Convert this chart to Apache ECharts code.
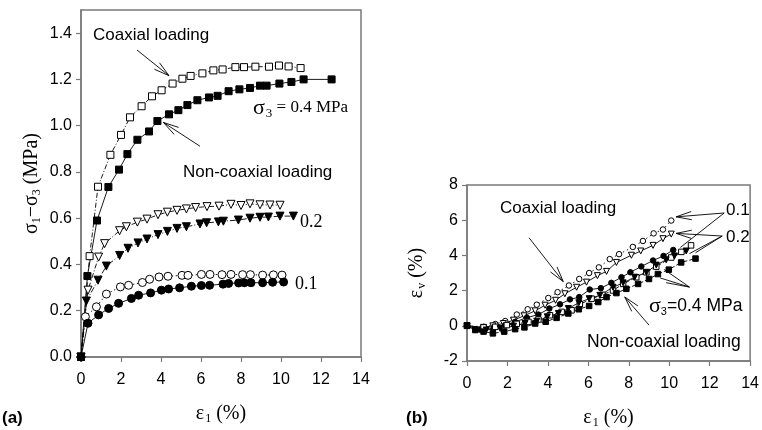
<!DOCTYPE html>
<html><head><meta charset="utf-8">
<script src="https://cdn.jsdelivr.net/npm/echarts@6/dist/echarts.min.js"></script>
<style>html,body{margin:0;padding:0;background:#fff}#c{width:762px;height:430px}</style>
</head><body><div id="c"></div>
<script>
// ---------- (a) deviator stress vs axial strain ----------
const aCoax04X = [0,0.43,0.85,1.47,2.0,2.45,3.03,3.55,4.03,4.58,5.07,5.48,6.07,6.62,7.08,7.72,8.15,8.72,9.4,9.9,10.38,10.98];
const aCoax04Y = [0,0.436,0.736,0.874,0.96,1.036,1.084,1.127,1.153,1.182,1.203,1.215,1.226,1.239,1.243,1.253,1.253,1.255,1.255,1.26,1.256,1.249];
const aNon04X = [0,0.32,0.8,1.37,1.9,2.32,2.82,3.4,3.82,4.4,4.87,5.32,5.82,6.4,6.83,7.38,7.92,8.45,8.95,9.28,9.92,10.52,11.13,12.53];
const aNon04Y = [0,0.35,0.59,0.735,0.81,0.877,0.939,0.975,1.02,1.049,1.067,1.089,1.11,1.122,1.129,1.149,1.157,1.163,1.173,1.173,1.182,1.189,1.2,1.2];
const aCoax02X = [0,0.35,0.88,1.18,1.93,2.27,2.82,3.3,3.85,4.32,4.8,5.27,5.73,6.3,6.9,7.5,8.0,8.45,8.95,9.45,9.95];
const aCoax02Y = [0,0.289,0.432,0.49,0.546,0.563,0.583,0.596,0.615,0.626,0.634,0.64,0.646,0.65,0.652,0.66,0.655,0.662,0.658,0.657,0.656];
const aNon02X = [0,0.27,0.85,1.27,1.93,2.35,2.85,3.3,3.85,4.32,4.8,5.27,5.95,6.28,6.87,7.12,7.87,8.45,8.95,9.37,9.95,10.62];
const aNon02Y = [0,0.242,0.332,0.393,0.439,0.47,0.493,0.51,0.529,0.543,0.556,0.563,0.575,0.58,0.584,0.587,0.592,0.6,0.604,0.605,0.609,0.609];
const aCoax01X = [0,0.22,0.77,1.27,1.97,2.38,3.07,3.43,3.9,4.35,5.05,5.35,6.02,6.45,7.05,7.5,8.08,8.47,9.08,9.62,10.05];
const aCoax01Y = [0,0.174,0.217,0.272,0.303,0.31,0.322,0.336,0.346,0.349,0.353,0.353,0.357,0.357,0.356,0.357,0.356,0.356,0.354,0.355,0.354];
const aNon01X = [0,0.35,0.88,1.38,1.88,2.52,2.88,3.48,4.02,4.38,4.93,5.52,6.02,6.43,7.1,7.38,7.88,8.17,8.5,9.08,9.58,10.13];
const aNon01Y = [0,0.146,0.182,0.21,0.232,0.253,0.267,0.277,0.289,0.294,0.299,0.306,0.309,0.31,0.315,0.318,0.32,0.321,0.321,0.321,0.323,0.324];

// ---------- (b) volumetric strain vs axial strain ----------
const bCoax01X = [0,0.82,1.4,1.89,2.46,3.0,3.45,4.02,4.48,5.04,5.55,6.04,6.52,7.06,7.52,8.2,8.7,9.23,9.69,10.1];
const bCoax01Y = [0,-0.06,0.1,0.27,0.64,0.94,1.2,1.58,1.91,2.29,2.66,3.0,3.32,3.79,4.07,4.48,4.82,5.25,5.47,5.98];
const bCoax02X = [0,0.82,1.28,1.8,2.3,2.82,3.37,3.86,4.38,4.84,5.42,5.91,6.45,6.9,7.39,8.13,8.59,9.2,9.69,10.1];
const bCoax02Y = [0,-0.09,0,0.13,0.32,0.57,0.85,1.17,1.45,1.82,2.19,2.48,2.85,3.09,3.6,4.01,4.25,4.57,4.95,5.21];
const bNon01X = [0,0.66,1.31,1.89,2.38,2.96,3.53,4.07,4.6,5.09,5.55,6.07,6.62,7.14,7.64,8.08,8.62,9.2,9.72,10.2];
const bNon01Y = [0,-0.22,-0.15,0.04,0.22,0.46,0.64,0.98,1.22,1.5,1.63,2.06,2.14,2.44,2.76,3.04,3.37,3.71,3.97,4.31];
const bCoax04X = [0,0.82,1.4,1.97,2.46,3.04,3.53,4.1,4.68,5.17,5.58,6.16,6.7,7.22,7.72,8.37,8.87,9.36,10.1,10.6,11.08];
const bCoax04Y = [0,-0.09,-0.06,0.04,0.11,0.22,0.36,0.6,0.79,0.88,1.22,1.54,1.76,2.01,2.38,2.76,3.04,3.36,3.88,4.2,4.57];
const bNon02X = [0,0.41,0.95,1.64,2.3,2.87,3.45,3.97,4.52,5.01,5.53,6.04,6.57,7.22,7.72,8.29,8.87,9.36,9.85,10.26,10.84];
const bNon02Y = [0,-0.24,-0.24,-0.15,-0.02,0.13,0.26,0.51,0.7,0.98,1.31,1.54,1.73,2.19,2.44,2.76,3.04,3.45,3.75,3.97,4.25];
const bNon04X = [0,0.41,0.82,1.28,1.84,2.38,2.84,3.37,3.89,4.43,5.01,5.53,6.04,6.49,6.9,7.39,7.88,8.46,9.0,9.44,9.98,10.59,11.3];
const bNon04Y = [0,-0.24,-0.33,-0.43,-0.33,-0.19,-0.09,0.13,0.23,0.45,0.7,0.94,1.13,1.35,1.63,1.86,2.1,2.38,2.66,2.94,3.19,3.6,3.82];

// axes ticks
const xTicks = [0,2,4,6,8,10,12,14];
const aYTicks = [0,0.2,0.4,0.6,0.8,1.0,1.2,1.4];
const bYTicks = [-2,0,2,4,6,8];

// annotation arrows (data coordinates)
const aArrows = [
  {from:[2.8,1.327], to:[4.4,1.216], head:true},
  {from:[5.95,0.911], to:[4.12,1.014], head:true}
];
const bArrows = [
  {from:[3.07,5.0], to:[4.76,2.51], head:true},
  {from:[9.0,0.04], to:[7.8,1.64], head:true},
  {from:[12.72,6.41], to:[10.34,6.19], head:true},
  {from:[12.72,6.41], to:[10.55,4.45], head:false},
  {from:[12.62,5.1], to:[10.34,5.25], head:true},
  {from:[12.62,5.1], to:[11.0,4.1], head:false},
  {from:[12.62,5.1], to:[11.3,4.15], head:false},
  {from:[11.0,2.2], to:[9.75,3.2], head:false},
  {from:[11.0,2.2], to:[9.55,2.72], head:false},
  {from:[11.0,2.2], to:[9.85,2.45], head:false}
];

const zip = (xs, ys) => xs.map((x,i)=>[x, ys[i]]);
const FONT = 'Liberation Sans';
const SERIF = 'Liberation Serif';
const AX = '#7a7a7a';

function ser(name, grid, xs, ys, sym, filled, lineType, size, rot){
  return {
    name, type:'line', xAxisIndex:grid, yAxisIndex:grid,
    data: zip(xs, ys), symbol: sym, symbolSize: size, symbolRotate: rot||0,
    showAllSymbol:true, animation:false,
    lineStyle:{color:'#000', width:0.9, type:lineType},
    itemStyle:{color: filled ? '#000' : '#fff', borderColor:'#000', borderWidth:1}
  };
}

function xAxisCfg(grid){
  return {
    type:'value', gridIndex:grid, min:0, max:14, interval:2,
    axisLine:{show:true, onZero:false, lineStyle:{color:AX, width:1.5}},
    axisTick:{show:true, length:5, lineStyle:{color:AX, width:1.2}},
    axisLabel:{fontFamily:FONT, fontSize:16, color:'#000', margin:15,
      formatter:v => xTicks.includes(v) ? String(v) : ''},
    splitLine:{show:false},
    name:'{g|ε}{s|1}{g| (%)}', nameLocation:'middle', nameGap:46,
    nameTextStyle:{rich:{
      g:{fontFamily:SERIF, fontSize:20, color:'#000'},
      s:{fontFamily:SERIF, fontSize:12, color:'#000', verticalAlign:'bottom', padding:[10,0,0,1]}
    }}
  };
}

const chart = echarts.init(document.getElementById('c'), null, {renderer:'canvas'});
const option = {
  animation:false,
  backgroundColor:'#fff',
  grid:[
    {left:81, right:401, top:10, bottom:69, show:true, borderColor:AX, borderWidth:1.5},
    {left:467, right:11, top:185, bottom:67, show:true, borderColor:AX, borderWidth:1.5}
  ],
  xAxis:[xAxisCfg(0), xAxisCfg(1)],
  yAxis:[
    {type:'value', gridIndex:0, min:0, max:1.5, interval:0.2,
     axisLine:{show:true, onZero:false, lineStyle:{color:AX, width:1.5}},
     axisTick:{show:true, length:5, lineStyle:{color:AX, width:1.2}},
     axisLabel:{fontFamily:FONT, fontSize:16, color:'#000', margin:9, showMaxLabel:false,
       formatter:v => aYTicks.some(t=>Math.abs(t-v)<1e-6) ? v.toFixed(1) : ''},
     splitLine:{show:false},
     name:'{g|σ}{s|1}{g|−σ}{s|3}{g| (MPa)}', nameLocation:'middle', nameGap:38,
     nameTextStyle:{rich:{
       g:{fontFamily:SERIF, fontSize:20, color:'#000'},
       s:{fontFamily:SERIF, fontSize:12, color:'#000', verticalAlign:'bottom', padding:[10,0,0,0]}
     }}},
    {type:'value', gridIndex:1, min:-2, max:8, interval:2,
     axisLine:{show:true, onZero:false, lineStyle:{color:AX, width:1.5}},
     axisTick:{show:true, length:5, lineStyle:{color:AX, width:1.2}},
     axisLabel:{fontFamily:FONT, fontSize:16, color:'#000', margin:9,
       formatter:v => bYTicks.includes(v) ? String(v) : ''},
     splitLine:{show:false},
     name:'{g|ε}{s|v}{g| (%)}', nameLocation:'middle', nameGap:39,
     nameTextStyle:{rich:{
       g:{fontFamily:SERIF, fontSize:20, color:'#000'},
       s:{fontFamily:SERIF, fontSize:12, color:'#000', verticalAlign:'bottom', padding:[10,0,0,1]}
     }}}
  ],
  series:[
    ser('a-coax-0.1', 0, aCoax01X, aCoax01Y, 'circle', false, [1.5,2.5], 8),
    ser('a-non-0.1', 0, aNon01X, aNon01Y, 'circle', true, 'solid', 8),
    ser('a-coax-0.2', 0, aCoax02X, aCoax02Y, 'triangle', false, [5,2,1,2], 8, 180),
    ser('a-non-0.2', 0, aNon02X, aNon02Y, 'triangle', true, [6,2,1,2], 8, 180),
    ser('a-coax-0.4', 0, aCoax04X, aCoax04Y, 'rect', false, [5,2,1,2], 7),
    ser('a-non-0.4', 0, aNon04X, aNon04Y, 'rect', true, 'solid', 7),
    ser('b-coax-0.1', 1, bCoax01X, bCoax01Y, 'circle', false, [1.5,3], 5.5),
    ser('b-coax-0.2', 1, bCoax02X, bCoax02Y, 'triangle', false, 'solid', 6, 180),
    ser('b-non-0.1', 1, bNon01X, bNon01Y, 'circle', true, 'solid', 5.5),
    ser('b-coax-0.4', 1, bCoax04X, bCoax04Y, 'rect', false, [4,2], 5.5),
    ser('b-non-0.2', 1, bNon02X, bNon02Y, 'triangle', true, 'solid', 6, 180),
    ser('b-non-0.4', 1, bNon04X, bNon04Y, 'rect', true, [5,2], 5.5)
  ]
};
chart.setOption(option);

function arrowGraphics(list, grid){
  const out = [];
  list.forEach(a=>{
    const p0 = chart.convertToPixel({gridIndex:grid}, a.from);
    const p1 = chart.convertToPixel({gridIndex:grid}, a.to);
    out.push({type:'line', z:50, shape:{x1:p0[0], y1:p0[1], x2:p1[0], y2:p1[1]}, style:{stroke:'#000', lineWidth:0.9}});
    if(a.head){
      const dx = p0[0]-p1[0], dy = p0[1]-p1[1];
      const L = Math.hypot(dx,dy), ux = dx/L, uy = dy/L;
      [0.26,-0.26].forEach(ang=>{
        const c = Math.cos(ang), s = Math.sin(ang);
        const rx = ux*c - uy*s, ry = ux*s + uy*c;
        out.push({type:'line', z:50, shape:{x1:p1[0], y1:p1[1], x2:p1[0]+rx*16, y2:p1[1]+ry*16}, style:{stroke:'#000', lineWidth:0.9}});
      });
    }
  });
  return out;
}

function txt(x, y, text, font, size, align, weight){
  return {type:'text', z:60, x, y, style:{text, fontFamily:font, fontSize:size, fontWeight:weight||'normal', fill:'#000', textAlign:align||'left', textVerticalAlign:'middle'}};
}
function richTxt(x, y, text, rich){
  return {type:'text', z:60, x, y, style:{text, rich, fill:'#000', textAlign:'left', textVerticalAlign:'middle'}};
}

const graphics = [].concat(
  arrowGraphics(aArrows, 0),
  arrowGraphics(bArrows, 1),
  [
    txt(93, 35, 'Coaxial loading', FONT, 17),
    txt(183, 172, 'Non-coaxial loading', FONT, 17),
    richTxt(253, 108, '{g|σ}{s|3}{t| = 0.4 MPa}', {
      g:{fontFamily:SERIF, fontSize:22}, s:{fontFamily:SERIF, fontSize:13, verticalAlign:'bottom', padding:[12,0,0,1]},
      t:{fontFamily:SERIF, fontSize:17}}),
    txt(300, 222, '0.2', SERIF, 18),
    txt(295, 284, '0.1', SERIF, 18),
    txt(2, 418, '(a)', FONT, 17, 'left', 'bold'),
    txt(500, 208, 'Coaxial loading', FONT, 17),
    txt(726, 210, '0.1', FONT, 17),
    txt(726, 237, '0.2', FONT, 17),
    richTxt(649, 306, '{g|σ}{s|3}{t|=0.4 MPa}', {
      g:{fontFamily:SERIF, fontSize:22}, s:{fontFamily:FONT, fontSize:11, verticalAlign:'bottom', padding:[12,0,0,0]},
      t:{fontFamily:FONT, fontSize:17.5}}),
    txt(587, 342, 'Non-coaxial loading', FONT, 17.5),
    txt(406, 418, '(b)', FONT, 17, 'left', 'bold')
  ]
);
chart.setOption({graphic: graphics});
</script>
</body></html>
